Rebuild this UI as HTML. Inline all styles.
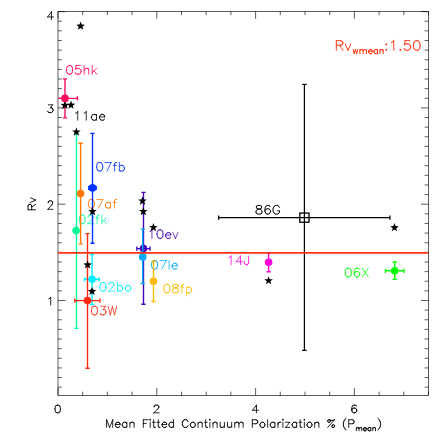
<!DOCTYPE html>
<html><head><meta charset="utf-8"><title>Rv vs Mean Fitted Continuum Polarization</title>
<style>html,body{margin:0;padding:0;background:#fff;font-family:"Liberation Sans",sans-serif;}svg{display:block}</style></head>
<body><svg width="436" height="436" viewBox="0 0 436 436">
<rect width="436" height="436" fill="#fff"/>
<g stroke="#000" stroke-width="0.64" fill="none" stroke-linecap="butt">
<rect x="58.00" y="11.45" width="370.40" height="383.95"/>
<path d="M58.00 387.17h3.80M428.40 387.17h-3.80M58.00 377.54h3.80M428.40 377.54h-3.80M58.00 367.91h3.80M428.40 367.91h-3.80M58.00 358.28h3.80M428.40 358.28h-3.80M58.00 348.65h3.80M428.40 348.65h-3.80M58.00 339.02h3.80M428.40 339.02h-3.80M58.00 329.39h3.80M428.40 329.39h-3.80M58.00 319.76h3.80M428.40 319.76h-3.80M58.00 310.13h3.80M428.40 310.13h-3.80M58.00 300.50h7.40M428.40 300.50h-7.40M58.00 290.87h3.80M428.40 290.87h-3.80M58.00 281.24h3.80M428.40 281.24h-3.80M58.00 271.61h3.80M428.40 271.61h-3.80M58.00 261.98h3.80M428.40 261.98h-3.80M58.00 252.35h3.80M428.40 252.35h-3.80M58.00 242.72h3.80M428.40 242.72h-3.80M58.00 233.09h3.80M428.40 233.09h-3.80M58.00 223.46h3.80M428.40 223.46h-3.80M58.00 213.83h3.80M428.40 213.83h-3.80M58.00 204.20h7.40M428.40 204.20h-7.40M58.00 194.57h3.80M428.40 194.57h-3.80M58.00 184.94h3.80M428.40 184.94h-3.80M58.00 175.31h3.80M428.40 175.31h-3.80M58.00 165.68h3.80M428.40 165.68h-3.80M58.00 156.05h3.80M428.40 156.05h-3.80M58.00 146.42h3.80M428.40 146.42h-3.80M58.00 136.79h3.80M428.40 136.79h-3.80M58.00 127.16h3.80M428.40 127.16h-3.80M58.00 117.53h3.80M428.40 117.53h-3.80M58.00 107.90h7.40M428.40 107.90h-7.40M58.00 98.27h3.80M428.40 98.27h-3.80M58.00 88.64h3.80M428.40 88.64h-3.80M58.00 79.01h3.80M428.40 79.01h-3.80M58.00 69.38h3.80M428.40 69.38h-3.80M58.00 59.75h3.80M428.40 59.75h-3.80M58.00 50.12h3.80M428.40 50.12h-3.80M58.00 40.49h3.80M428.40 40.49h-3.80M58.00 30.86h3.80M428.40 30.86h-3.80M58.00 21.23h3.80M428.40 21.23h-3.80M58.00 11.60h7.40M428.40 11.60h-7.40M58.00 395.40v-7.40M58.00 11.45v7.40M82.70 395.40v-3.70M82.70 11.45v3.70M107.40 395.40v-3.70M107.40 11.45v3.70M132.10 395.40v-3.70M132.10 11.45v3.70M156.80 395.40v-7.40M156.80 11.45v7.40M181.50 395.40v-3.70M181.50 11.45v3.70M206.20 395.40v-3.70M206.20 11.45v3.70M230.90 395.40v-3.70M230.90 11.45v3.70M255.60 395.40v-7.40M255.60 11.45v7.40M280.30 395.40v-3.70M280.30 11.45v3.70M305.00 395.40v-3.70M305.00 11.45v3.70M329.70 395.40v-3.70M329.70 11.45v3.70M354.40 395.40v-7.40M354.40 11.45v7.40M379.10 395.40v-3.70M379.10 11.45v3.70M403.80 395.40v-3.70M403.80 11.45v3.70M428.50 395.40v-3.70M428.50 11.45v3.70"/>
</g>
<path d="M54.99 408.42L55.38 406.60M54.99 409.51L55.38 411.34M60.02 406.60L60.41 408.42M60.02 411.34L60.41 409.51M55.38 406.60L56.15 405.50M55.38 411.34L56.15 412.44M59.25 405.50L60.02 406.60M59.25 412.44L60.02 411.34M56.15 405.50L57.31 405.13M56.15 412.44L57.31 412.80M58.09 405.13L59.25 405.50M58.09 412.80L59.25 412.44M54.99 408.42L54.99 409.51M60.41 408.42L60.41 409.51M57.31 405.13L58.09 405.13M57.31 412.80L58.09 412.80" fill="none" stroke="#000" stroke-width="0.85" stroke-linecap="round" stroke-linejoin="round" opacity="1"/>
<path d="M153.79 412.80L157.66 409.15M153.79 412.80L159.21 412.80M155.73 405.13L157.27 405.13M157.66 409.15L158.44 408.06M154.18 406.60L154.56 405.87M154.95 405.50L155.73 405.13M157.27 405.13L158.05 405.50M158.44 405.87L158.82 406.60M158.44 408.06L158.82 407.32M158.82 406.60L158.82 407.32M154.56 405.87L154.95 405.50M158.05 405.50L158.44 405.87M154.18 406.60L154.18 406.96" fill="none" stroke="#000" stroke-width="0.85" stroke-linecap="round" stroke-linejoin="round" opacity="1"/>
<path d="M256.46 405.13L256.46 412.80M252.59 410.25L256.46 405.13M252.59 410.25L258.40 410.25" fill="none" stroke="#000" stroke-width="0.85" stroke-linecap="round" stroke-linejoin="round" opacity="1"/>
<path d="M351.78 408.42L352.16 406.60M351.78 408.42L351.78 410.25M351.78 410.25L352.16 411.70M352.16 406.60L352.94 405.50M351.78 410.25L352.16 409.15M352.94 405.50L354.10 405.13M352.94 408.42L354.10 408.06M352.94 412.44L354.10 412.80M354.49 408.06L355.65 408.42M354.49 412.80L355.65 412.44M354.87 405.13L356.03 405.50M356.42 409.15L356.81 410.25M356.42 411.70L356.81 410.61M352.16 409.15L352.94 408.42M352.16 411.70L352.94 412.44M355.65 408.42L356.42 409.15M355.65 412.44L356.42 411.70M356.03 405.50L356.42 406.23M354.10 405.13L354.87 405.13M354.10 408.06L354.49 408.06M354.10 412.80L354.49 412.80M356.81 410.25L356.81 410.61" fill="none" stroke="#000" stroke-width="0.85" stroke-linecap="round" stroke-linejoin="round" opacity="1"/>
<path d="M50.72 297.28L50.72 305.05M49.56 298.39L50.72 297.28M48.78 298.76L49.56 298.39" fill="none" stroke="#000" stroke-width="0.85" stroke-linecap="round" stroke-linejoin="round" opacity="1"/>
<path d="M47.85 209.30L51.47 205.25M47.85 209.30L52.91 209.30M49.66 200.80L51.10 200.80M51.47 205.25L52.19 204.04M48.21 202.42L48.57 201.61M48.93 201.20L49.66 200.80M51.10 200.80L51.83 201.20M52.19 201.61L52.55 202.42M52.19 204.04L52.55 203.23M52.55 202.42L52.55 203.23M48.57 201.61L48.93 201.20M51.83 201.20L52.19 201.61M48.21 202.42L48.21 202.82" fill="none" stroke="#000" stroke-width="0.85" stroke-linecap="round" stroke-linejoin="round" opacity="1"/>
<path d="M48.40 104.83L52.65 104.83M50.33 107.79L52.65 104.83M48.40 112.23L49.56 112.60M50.72 112.60L51.88 112.23M52.65 108.53L53.04 109.64M52.65 111.49L53.04 110.38M49.56 112.60L50.72 112.60M50.33 107.79L51.49 107.79M51.88 112.23L52.65 111.49M47.62 111.12L48.01 111.86M51.49 107.79L52.27 108.16M53.04 109.64L53.04 110.38M48.01 111.86L48.40 112.23M52.27 108.16L52.65 108.53" fill="none" stroke="#000" stroke-width="0.85" stroke-linecap="round" stroke-linejoin="round" opacity="1"/>
<path d="M51.49 11.78L51.49 19.55M47.62 16.96L51.49 11.78M47.62 16.96L53.43 16.96" fill="none" stroke="#000" stroke-width="0.85" stroke-linecap="round" stroke-linejoin="round" opacity="1"/>
<path d="M106.60 419.73L109.66 427.40M109.66 427.40L112.72 419.73M106.60 419.73L106.60 427.40M112.72 419.73L112.72 427.40M115.40 424.48L119.99 424.48M115.40 424.48L115.78 423.38M115.40 425.21L115.78 426.30M117.31 422.29L118.46 422.29M117.31 427.40L118.46 427.40M115.78 423.38L116.55 422.65M115.78 426.30L116.55 427.03M119.22 427.03L119.99 426.30M116.55 422.65L117.31 422.29M116.55 427.03L117.31 427.40M118.46 422.29L119.22 422.65M118.46 427.40L119.22 427.03M119.61 423.02L119.99 423.75M115.40 424.48L115.40 425.21M119.99 423.75L119.99 424.48M119.22 422.65L119.61 423.02M126.87 422.29L126.87 427.40M122.28 424.48L122.67 423.38M122.28 425.21L122.67 426.30M124.20 422.29L125.34 422.29M124.20 427.40L125.34 427.40M122.67 423.38L123.43 422.65M122.67 426.30L123.43 427.03M126.11 422.65L126.87 423.38M126.11 427.03L126.87 426.30M123.43 422.65L124.20 422.29M123.43 427.03L124.20 427.40M125.34 422.29L126.11 422.65M125.34 427.40L126.11 427.03M122.28 424.48L122.28 425.21M129.93 422.29L129.93 427.40M134.14 423.75L134.14 427.40M129.93 423.75L131.08 422.65M133.76 422.65L134.14 423.75M131.84 422.29L132.99 422.29M131.08 422.65L131.84 422.29M132.99 422.29L133.76 422.65M143.32 419.73L143.32 427.40M143.32 419.73L148.29 419.73M143.32 423.38L146.38 423.38M150.21 422.29L150.21 427.40M149.82 419.73L150.21 419.37M149.82 419.73L150.21 420.10M150.21 419.37L150.59 419.73M150.21 420.10L150.59 419.73M153.65 419.73L153.65 425.94M152.50 422.29L155.18 422.29M153.65 425.94L154.03 427.03M154.03 427.03L154.80 427.40M154.80 427.40L155.56 427.40M158.24 419.73L158.24 425.94M157.09 422.29L159.77 422.29M158.24 425.94L158.62 427.03M158.62 427.03L159.39 427.40M159.39 427.40L160.15 427.40M162.06 424.48L166.65 424.48M162.06 424.48L162.45 423.38M162.06 425.21L162.45 426.30M163.98 422.29L165.12 422.29M163.98 427.40L165.12 427.40M162.45 423.38L163.21 422.65M162.45 426.30L163.21 427.03M165.89 427.03L166.65 426.30M163.21 422.65L163.98 422.29M163.21 427.03L163.98 427.40M165.12 422.29L165.89 422.65M165.12 427.40L165.89 427.03M166.27 423.02L166.65 423.75M162.06 424.48L162.06 425.21M166.65 423.75L166.65 424.48M165.89 422.65L166.27 423.02M173.54 419.73L173.54 427.40M168.95 424.48L169.33 423.38M168.95 425.21L169.33 426.30M170.86 422.29L172.01 422.29M170.86 427.40L172.01 427.40M169.33 423.38L170.09 422.65M169.33 426.30L170.09 427.03M172.77 422.65L173.54 423.38M172.77 427.03L173.54 426.30M170.09 422.65L170.86 422.29M170.09 427.03L170.86 427.40M172.01 422.29L172.77 422.65M172.01 427.40L172.77 427.03M168.95 424.48L168.95 425.21M182.34 422.65L182.34 424.48M184.63 419.73L186.16 419.73M184.63 427.40L186.16 427.40M182.34 422.65L182.72 421.56M182.34 424.48L182.72 425.57M183.10 420.83L183.87 420.10M183.10 426.30L183.87 427.03M186.93 420.10L187.69 420.83M186.93 427.03L187.69 426.30M182.72 421.56L183.10 420.83M182.72 425.57L183.10 426.30M183.87 420.10L184.63 419.73M183.87 427.03L184.63 427.40M186.16 419.73L186.93 420.10M186.16 427.40L186.93 427.03M187.69 420.83L188.07 421.56M187.69 426.30L188.07 425.57M190.37 424.48L190.75 423.38M190.37 425.21L190.75 426.30M194.96 423.38L195.34 424.48M194.96 426.30L195.34 425.21M192.28 422.29L193.43 422.29M192.28 427.40L193.43 427.40M190.75 423.38L191.52 422.65M190.75 426.30L191.52 427.03M194.19 422.65L194.96 423.38M194.19 427.03L194.96 426.30M191.52 422.65L192.28 422.29M191.52 427.03L192.28 427.40M193.43 422.29L194.19 422.65M193.43 427.40L194.19 427.03M190.37 424.48L190.37 425.21M195.34 424.48L195.34 425.21M198.02 422.29L198.02 427.40M202.23 423.75L202.23 427.40M198.02 423.75L199.17 422.65M201.84 422.65L202.23 423.75M199.93 422.29L201.08 422.29M199.17 422.65L199.93 422.29M201.08 422.29L201.84 422.65M205.67 419.73L205.67 425.94M204.52 422.29L207.20 422.29M205.67 425.94L206.05 427.03M206.05 427.03L206.82 427.40M206.82 427.40L207.58 427.40M209.88 422.29L209.88 427.40M209.49 419.73L209.88 419.37M209.49 419.73L209.88 420.10M209.88 419.37L210.26 419.73M209.88 420.10L210.26 419.73M212.94 422.29L212.94 427.40M217.14 423.75L217.14 427.40M212.94 423.75L214.08 422.65M216.76 422.65L217.14 423.75M214.85 422.29L216.00 422.29M214.08 422.65L214.85 422.29M216.00 422.29L216.76 422.65M224.41 422.29L224.41 427.40M220.20 422.29L220.20 425.94M223.26 427.03L224.41 425.94M220.20 425.94L220.59 427.03M221.35 427.40L222.50 427.40M220.59 427.03L221.35 427.40M222.50 427.40L223.26 427.03M231.68 422.29L231.68 427.40M227.47 422.29L227.47 425.94M230.53 427.03L231.68 425.94M227.47 425.94L227.85 427.03M228.62 427.40L229.77 427.40M227.85 427.03L228.62 427.40M229.77 427.40L230.53 427.03M234.74 422.29L234.74 427.40M238.95 423.75L238.95 427.40M243.15 423.75L243.15 427.40M234.74 423.75L235.89 422.65M238.95 423.75L240.09 422.65M238.56 422.65L238.95 423.75M242.77 422.65L243.15 423.75M236.65 422.29L237.80 422.29M240.86 422.29L242.01 422.29M235.89 422.65L236.65 422.29M237.80 422.29L238.56 422.65M240.09 422.65L240.86 422.29M242.01 422.29L242.77 422.65M252.33 419.73L252.33 427.40M252.33 419.73L255.78 419.73M252.33 423.75L255.78 423.75M255.78 419.73L256.92 420.10M255.78 423.75L256.92 423.38M257.69 421.19L257.69 422.29M257.31 420.46L257.69 421.19M257.31 423.02L257.69 422.29M256.92 420.10L257.31 420.46M256.92 423.38L257.31 423.02M259.98 424.48L260.37 423.38M259.98 425.21L260.37 426.30M264.57 423.38L264.96 424.48M264.57 426.30L264.96 425.21M261.90 422.29L263.04 422.29M261.90 427.40L263.04 427.40M260.37 423.38L261.13 422.65M260.37 426.30L261.13 427.03M263.81 422.65L264.57 423.38M263.81 427.03L264.57 426.30M261.13 422.65L261.90 422.29M261.13 427.03L261.90 427.40M263.04 422.29L263.81 422.65M263.04 427.40L263.81 427.03M259.98 424.48L259.98 425.21M264.96 424.48L264.96 425.21M267.63 419.73L267.63 427.40M274.90 422.29L274.90 427.40M270.31 424.48L270.69 423.38M270.31 425.21L270.69 426.30M272.22 422.29L273.37 422.29M272.22 427.40L273.37 427.40M270.69 423.38L271.46 422.65M270.69 426.30L271.46 427.03M274.14 422.65L274.90 423.38M274.14 427.03L274.90 426.30M271.46 422.65L272.22 422.29M271.46 427.03L272.22 427.40M273.37 422.29L274.14 422.65M273.37 427.40L274.14 427.03M270.31 424.48L270.31 425.21M277.96 422.29L277.96 427.40M277.96 424.48L278.34 423.38M279.87 422.29L281.02 422.29M278.34 423.38L279.11 422.65M279.11 422.65L279.87 422.29M282.93 422.29L282.93 427.40M282.55 419.73L282.93 419.37M282.55 419.73L282.93 420.10M282.93 419.37L283.32 419.73M282.93 420.10L283.32 419.73M285.61 427.40L289.82 422.29M285.61 422.29L289.82 422.29M285.61 427.40L289.82 427.40M296.70 422.29L296.70 427.40M292.11 424.48L292.50 423.38M292.11 425.21L292.50 426.30M294.03 422.29L295.17 422.29M294.03 427.40L295.17 427.40M292.50 423.38L293.26 422.65M292.50 426.30L293.26 427.03M295.94 422.65L296.70 423.38M295.94 427.03L296.70 426.30M293.26 422.65L294.03 422.29M293.26 427.03L294.03 427.40M295.17 422.29L295.94 422.65M295.17 427.40L295.94 427.03M292.11 424.48L292.11 425.21M300.15 419.73L300.15 425.94M299.00 422.29L301.68 422.29M300.15 425.94L300.53 427.03M300.53 427.03L301.29 427.40M301.29 427.40L302.06 427.40M304.35 422.29L304.35 427.40M303.97 419.73L304.35 419.37M303.97 419.73L304.35 420.10M304.35 419.37L304.74 419.73M304.35 420.10L304.74 419.73M307.03 424.48L307.41 423.38M307.03 425.21L307.41 426.30M311.62 423.38L312.00 424.48M311.62 426.30L312.00 425.21M308.94 422.29L310.09 422.29M308.94 427.40L310.09 427.40M307.41 423.38L308.18 422.65M307.41 426.30L308.18 427.03M310.86 422.65L311.62 423.38M310.86 427.03L311.62 426.30M308.18 422.65L308.94 422.29M308.18 427.03L308.94 427.40M310.09 422.29L310.86 422.65M310.09 427.40L310.86 427.03M307.03 424.48L307.03 425.21M312.00 424.48L312.00 425.21M314.68 422.29L314.68 427.40M318.89 423.75L318.89 427.40M314.68 423.75L315.83 422.65M318.51 422.65L318.89 423.75M316.59 422.29L317.74 422.29M315.83 422.65L316.59 422.29M317.74 422.29L318.51 422.65M327.69 427.40L334.57 419.73M330.36 420.10L331.51 420.46M332.66 420.46L333.81 420.10M331.51 420.46L332.66 420.46M327.69 421.56L328.45 422.29M329.60 419.73L330.36 420.46M331.89 426.67L332.66 427.40M333.81 424.84L334.57 425.57M327.69 420.83L328.07 420.10M328.07 420.10L328.83 419.73M329.22 422.29L329.98 421.92M329.60 419.73L330.36 420.10M329.98 421.92L330.36 421.19M331.89 425.94L332.28 425.21M332.28 425.21L333.04 424.84M333.42 427.40L334.19 427.03M333.81 420.10L334.57 419.73M334.19 427.03L334.57 426.30M327.69 420.83L327.69 421.56M328.45 422.29L329.22 422.29M328.83 419.73L329.60 419.73M330.36 420.46L330.36 421.19M331.89 425.94L331.89 426.67M332.66 427.40L333.42 427.40M333.04 424.84L333.81 424.84M334.57 425.57L334.57 426.30M343.37 423.38L343.75 421.56M343.37 424.84L343.75 426.67M343.75 421.56L344.52 420.10M343.75 426.67L344.52 428.13M343.37 423.38L343.37 424.84M344.52 420.10L345.28 419.00M344.52 428.13L345.28 429.22M345.28 419.00L346.05 418.27M345.28 429.22L346.05 429.95M348.72 419.73L348.72 427.40M348.72 419.73L352.17 419.73M348.72 423.75L352.17 423.75M352.17 419.73L353.31 420.10M352.17 423.75L353.31 423.38M354.08 421.19L354.08 422.29M353.70 420.46L354.08 421.19M353.70 423.02L354.08 422.29M353.31 420.10L353.70 420.46M353.31 423.38L353.70 423.02" fill="none" stroke="#000" stroke-width="0.85" stroke-linecap="round" stroke-linejoin="round" opacity="1"/>
<path d="M356.31 427.63L356.31 430.80M359.01 428.54L359.01 430.80M361.71 428.54L361.71 430.80M356.31 428.54L357.05 427.86M359.01 428.54L359.75 427.86M358.77 427.86L359.01 428.54M361.47 427.86L361.71 428.54M357.54 427.63L358.27 427.63M360.24 427.63L360.98 427.63M357.05 427.86L357.54 427.63M358.27 427.63L358.77 427.86M359.75 427.86L360.24 427.63M360.98 427.63L361.47 427.86M363.43 428.99L366.38 428.99M363.43 428.99L363.68 428.31M363.43 429.44L363.68 430.12M364.66 427.63L365.40 427.63M364.66 430.80L365.40 430.80M363.68 428.31L364.17 427.86M363.68 430.12L364.17 430.57M365.89 430.57L366.38 430.12M364.17 427.86L364.66 427.63M364.17 430.57L364.66 430.80M365.40 427.63L365.89 427.86M365.40 430.80L365.89 430.57M366.14 428.08L366.38 428.54M363.43 428.99L363.43 429.44M366.38 428.54L366.38 428.99M365.89 427.86L366.14 428.08M370.81 427.63L370.81 430.80M367.86 428.99L368.10 428.31M367.86 429.44L368.10 430.12M369.09 427.63L369.82 427.63M369.09 430.80L369.82 430.80M368.10 428.31L368.60 427.86M368.10 430.12L368.60 430.57M370.32 427.86L370.81 428.31M370.32 430.57L370.81 430.12M368.60 427.86L369.09 427.63M368.60 430.57L369.09 430.80M369.82 427.63L370.32 427.86M369.82 430.80L370.32 430.57M367.86 428.99L367.86 429.44M372.77 427.63L372.77 430.80M375.48 428.54L375.48 430.80M372.77 428.54L373.51 427.86M375.23 427.86L375.48 428.54M374.00 427.63L374.74 427.63M373.51 427.86L374.00 427.63M374.74 427.63L375.23 427.86" fill="none" stroke="#000" stroke-width="0.85" stroke-linecap="round" stroke-linejoin="round" opacity="1"/>
<path d="M380.14 421.56L380.53 423.38M380.14 426.67L380.53 424.84M379.37 420.10L380.14 421.56M379.37 428.13L380.14 426.67M380.53 423.38L380.53 424.84M378.59 419.00L379.37 420.10M378.59 429.22L379.37 428.13M377.82 418.27L378.59 419.00M377.82 429.95L378.59 429.22" fill="none" stroke="#000" stroke-width="0.85" stroke-linecap="round" stroke-linejoin="round" opacity="1"/>
<g transform="translate(35.7 211.3) rotate(-90)"><path d="M1.55 -7.67L1.55 0.00M4.26 -4.01L6.97 0.00M1.55 -7.67L5.03 -7.67M1.55 -4.01L5.03 -4.01M5.03 -7.67L6.19 -7.30M5.03 -4.01L6.19 -4.38M6.58 -6.93L6.97 -6.21M6.58 -4.75L6.97 -5.47M6.97 -6.21L6.97 -5.47M6.19 -7.30L6.58 -6.93M6.19 -4.38L6.58 -4.75M8.90 -5.11L11.22 0.00M11.22 0.00L13.55 -5.11" fill="none" stroke="#000" stroke-width="0.9" stroke-linecap="round"/></g>
<path d="M76.50 132.00V328.30M74.40 132.00h4.20M74.40 328.30h4.20" stroke="#00ff99" stroke-width="1.30" fill="none"/>
<circle cx="76.1" cy="230.6" r="3.8" fill="#00ff99"/>
<path d="M79.20 218.77L79.63 216.71M79.20 220.00L79.63 222.06M84.75 216.71L85.18 218.77M84.75 222.06L85.18 220.00M79.63 216.71L80.48 215.48M79.63 222.06L80.48 223.29M83.90 215.48L84.75 216.71M83.90 223.29L84.75 222.06M80.48 215.48L81.76 215.07M80.48 223.29L81.76 223.70M82.62 215.07L83.90 215.48M82.62 223.70L83.90 223.29M79.20 218.77L79.20 220.00M85.18 218.77L85.18 220.00M81.76 215.07L82.62 215.07M81.76 223.70L82.62 223.70M87.74 223.70L92.01 219.59M87.74 223.70L93.72 223.70M89.88 215.07L91.58 215.07M92.01 219.59L92.86 218.36M88.17 216.71L88.59 215.89M89.02 215.48L89.88 215.07M91.58 215.07L92.44 215.48M92.86 215.89L93.29 216.71M92.86 218.36L93.29 217.53M93.29 216.71L93.29 217.53M88.59 215.89L89.02 215.48M92.44 215.48L92.86 215.89M88.17 216.71L88.17 217.12M97.13 216.71L97.13 223.70M95.85 217.95L98.84 217.95M97.13 216.71L97.56 215.48M97.56 215.48L98.41 215.07M98.41 215.07L99.27 215.07M101.83 215.07L101.83 223.70M101.83 222.06L106.10 217.95M103.54 220.41L106.53 223.70" fill="none" stroke="#00ff99" stroke-width="0.80" stroke-linecap="round" stroke-linejoin="round" opacity="1"/>
<path d="M80.60 143.30V243.90M78.50 143.30h4.20M78.50 243.90h4.20" stroke="#ff7700" stroke-width="1.38" fill="none"/>
<circle cx="80.60" cy="193.60" r="3.80" fill="#ff7700"/>
<path d="M88.40 203.17L88.83 201.11M88.40 204.40L88.83 206.46M93.95 201.11L94.38 203.17M93.95 206.46L94.38 204.40M88.83 201.11L89.68 199.88M88.83 206.46L89.68 207.69M93.10 199.88L93.95 201.11M93.10 207.69L93.95 206.46M89.68 199.88L90.96 199.47M89.68 207.69L90.96 208.10M91.82 199.47L93.10 199.88M91.82 208.10L93.10 207.69M88.40 203.17L88.40 204.40M94.38 203.17L94.38 204.40M90.96 199.47L91.82 199.47M90.96 208.10L91.82 208.10M98.65 208.10L102.92 199.47M96.94 199.47L102.92 199.47M110.60 202.35L110.60 208.10M105.48 204.81L105.91 203.58M105.48 205.63L105.91 206.87M107.61 202.35L108.90 202.35M107.61 208.10L108.90 208.10M105.91 203.58L106.76 202.76M105.91 206.87L106.76 207.69M109.75 202.76L110.60 203.58M109.75 207.69L110.60 206.87M106.76 202.76L107.61 202.35M106.76 207.69L107.61 208.10M108.90 202.35L109.75 202.76M108.90 208.10L109.75 207.69M105.48 204.81L105.48 205.63M114.45 201.11L114.45 208.10M113.17 202.35L116.15 202.35M114.45 201.11L114.87 199.88M114.87 199.88L115.73 199.47M115.73 199.47L116.58 199.47" fill="none" stroke="#ff7700" stroke-width="0.80" stroke-linecap="round" stroke-linejoin="round" opacity="1"/>
<path d="M92.50 133.40V243.30M90.40 133.40h4.20M90.40 243.30h4.20M88.80 187.90H96.20M88.80 185.80v4.20M96.20 185.80v4.20" stroke="#0033ff" stroke-width="1.38" fill="none"/>
<circle cx="92.50" cy="187.90" r="3.80" fill="#0033ff"/>
<path d="M96.70 166.17L97.13 164.11M96.70 167.40L97.13 169.46M102.25 164.11L102.68 166.17M102.25 169.46L102.68 167.40M97.13 164.11L97.98 162.88M97.13 169.46L97.98 170.69M101.40 162.88L102.25 164.11M101.40 170.69L102.25 169.46M97.98 162.88L99.26 162.47M97.98 170.69L99.26 171.10M100.12 162.47L101.40 162.88M100.12 171.10L101.40 170.69M96.70 166.17L96.70 167.40M102.68 166.17L102.68 167.40M99.26 162.47L100.12 162.47M99.26 171.10L100.12 171.10M106.95 171.10L111.22 162.47M105.24 162.47L111.22 162.47M114.63 164.11L114.63 171.10M113.35 165.35L116.34 165.35M114.63 164.11L115.06 162.88M115.06 162.88L115.91 162.47M115.91 162.47L116.77 162.47M119.33 162.47L119.33 171.10M124.03 166.58L124.45 167.81M124.03 169.87L124.45 168.63M121.04 165.35L122.32 165.35M121.04 171.10L122.32 171.10M119.33 166.58L120.18 165.76M119.33 169.87L120.18 170.69M123.17 165.76L124.03 166.58M123.17 170.69L124.03 169.87M120.18 165.76L121.04 165.35M120.18 170.69L121.04 171.10M122.32 165.35L123.17 165.76M122.32 171.10L123.17 170.69M124.45 167.81L124.45 168.63" fill="none" stroke="#0033ff" stroke-width="0.80" stroke-linecap="round" stroke-linejoin="round" opacity="1"/>
<path d="M65.00 78.90V117.90M62.90 78.90h4.20M62.90 117.90h4.20M58.00 98.40H77.50M77.50 96.30v4.20" stroke="#ff0a5a" stroke-width="1.38" fill="none"/>
<circle cx="65.00" cy="98.40" r="3.80" fill="#ff0a5a"/>
<path d="M66.60 69.27L67.03 67.21M66.60 70.50L67.03 72.56M72.15 67.21L72.58 69.27M72.15 72.56L72.58 70.50M67.03 67.21L67.88 65.98M67.03 72.56L67.88 73.79M71.30 65.98L72.15 67.21M71.30 73.79L72.15 72.56M67.88 65.98L69.16 65.57M67.88 73.79L69.16 74.20M70.02 65.57L71.30 65.98M70.02 74.20L71.30 73.79M66.60 69.27L66.60 70.50M72.58 69.27L72.58 70.50M69.16 65.57L70.02 65.57M69.16 74.20L70.02 74.20M75.99 65.57L80.26 65.57M75.57 69.27L75.99 65.57M75.99 68.86L77.27 68.45M75.99 73.79L77.27 74.20M78.56 68.45L79.84 68.86M78.56 74.20L79.84 73.79M80.69 69.68L81.12 70.91M80.69 72.97L81.12 71.73M77.27 68.45L78.56 68.45M77.27 74.20L78.56 74.20M79.84 68.86L80.69 69.68M79.84 73.79L80.69 72.97M75.14 72.56L75.57 73.38M81.12 70.91L81.12 71.73M75.57 69.27L75.99 68.86M75.57 73.38L75.99 73.79M84.11 65.57L84.11 74.20M88.80 70.09L88.80 74.20M84.11 70.09L85.39 68.86M88.38 68.86L88.80 70.09M86.24 68.45L87.52 68.45M85.39 68.86L86.24 68.45M87.52 68.45L88.38 68.86M92.22 65.57L92.22 74.20M92.22 72.56L96.49 68.45M93.93 70.91L96.92 74.20" fill="none" stroke="#ff0a5a" stroke-width="0.85" stroke-linecap="round" stroke-linejoin="round" opacity="1"/>
<path d="M77.73 111.57L77.73 120.20M76.45 112.80L77.73 111.57M75.60 113.21L76.45 112.80M86.28 111.57L86.28 120.20M84.99 112.80L86.28 111.57M84.14 113.21L84.99 112.80M96.52 114.45L96.52 120.20M91.40 116.91L91.83 115.68M91.40 117.73L91.83 118.97M93.53 114.45L94.81 114.45M93.53 120.20L94.81 120.20M91.83 115.68L92.68 114.86M91.83 118.97L92.68 119.79M95.67 114.86L96.52 115.68M95.67 119.79L96.52 118.97M92.68 114.86L93.53 114.45M92.68 119.79L93.53 120.20M94.81 114.45L95.67 114.86M94.81 120.20L95.67 119.79M91.40 116.91L91.40 117.73M99.51 116.91L104.64 116.91M99.51 116.91L99.94 115.68M99.51 117.73L99.94 118.97M101.65 114.45L102.93 114.45M101.65 120.20L102.93 120.20M99.94 115.68L100.79 114.86M99.94 118.97L100.79 119.79M103.78 119.79L104.64 118.97M100.79 114.86L101.65 114.45M100.79 119.79L101.65 120.20M102.93 114.45L103.78 114.86M102.93 120.20L103.78 119.79M104.21 115.27L104.64 116.09M99.51 116.91L99.51 117.73M104.64 116.09L104.64 116.91M103.78 114.86L104.21 115.27" fill="none" stroke="#000" stroke-width="0.80" stroke-linecap="round" stroke-linejoin="round" opacity="1"/>
<path d="M92.10 254.50V304.60M90.00 254.50h4.20M90.00 304.60h4.20M84.50 279.30H99.20M84.50 277.20v4.20M99.20 277.20v4.20" stroke="#00eeff" stroke-width="1.38" fill="none"/>
<circle cx="92.10" cy="279.30" r="3.80" fill="#00eeff"/>
<path d="M100.00 286.17L100.43 284.11M100.00 287.40L100.43 289.46M105.55 284.11L105.98 286.17M105.55 289.46L105.98 287.40M100.43 284.11L101.28 282.88M100.43 289.46L101.28 290.69M104.70 282.88L105.55 284.11M104.70 290.69L105.55 289.46M101.28 282.88L102.56 282.47M101.28 290.69L102.56 291.10M103.42 282.47L104.70 282.88M103.42 291.10L104.70 290.69M100.00 286.17L100.00 287.40M105.98 286.17L105.98 287.40M102.56 282.47L103.42 282.47M102.56 291.10L103.42 291.10M108.54 291.10L112.81 286.99M108.54 291.10L114.52 291.10M110.67 282.47L112.38 282.47M112.81 286.99L113.66 285.76M108.97 284.11L109.39 283.29M109.82 282.88L110.67 282.47M112.38 282.47L113.24 282.88M113.66 283.29L114.09 284.11M113.66 285.76L114.09 284.93M114.09 284.11L114.09 284.93M109.39 283.29L109.82 282.88M113.24 282.88L113.66 283.29M108.97 284.11L108.97 284.52M117.51 282.47L117.51 291.10M122.20 286.58L122.63 287.81M122.20 289.87L122.63 288.63M119.21 285.35L120.50 285.35M119.21 291.10L120.50 291.10M117.51 286.58L118.36 285.76M117.51 289.87L118.36 290.69M121.35 285.76L122.20 286.58M121.35 290.69L122.20 289.87M118.36 285.76L119.21 285.35M118.36 290.69L119.21 291.10M120.50 285.35L121.35 285.76M120.50 291.10L121.35 290.69M122.63 287.81L122.63 288.63M125.19 287.81L125.62 286.58M125.19 288.63L125.62 289.87M130.32 286.58L130.74 287.81M130.32 289.87L130.74 288.63M127.33 285.35L128.61 285.35M127.33 291.10L128.61 291.10M125.62 286.58L126.47 285.76M125.62 289.87L126.47 290.69M129.46 285.76L130.32 286.58M129.46 290.69L130.32 289.87M126.47 285.76L127.33 285.35M126.47 290.69L127.33 291.10M128.61 285.35L129.46 285.76M128.61 291.10L129.46 290.69M125.19 287.81L125.19 288.63M130.74 287.81L130.74 288.63" fill="none" stroke="#00eeff" stroke-width="0.80" stroke-linecap="round" stroke-linejoin="round" opacity="1"/>
<path d="M87.50 233.60V368.20M85.40 233.60h4.20M85.40 368.20h4.20M74.80 300.60H99.90M74.80 298.50v4.20M99.90 298.50v4.20" stroke="#ff2a10" stroke-width="1.38" fill="none"/>
<circle cx="87.50" cy="300.60" r="3.80" fill="#ff2a10"/>
<path d="M91.50 309.97L91.93 307.91M91.50 311.20L91.93 313.26M97.05 307.91L97.48 309.97M97.05 313.26L97.48 311.20M91.93 307.91L92.78 306.68M91.93 313.26L92.78 314.49M96.20 306.68L97.05 307.91M96.20 314.49L97.05 313.26M92.78 306.68L94.06 306.27M92.78 314.49L94.06 314.90M94.92 306.27L96.20 306.68M94.92 314.90L96.20 314.49M91.50 309.97L91.50 311.20M97.48 309.97L97.48 311.20M94.06 306.27L94.92 306.27M94.06 314.90L94.92 314.90M100.89 306.27L105.59 306.27M103.03 309.56L105.59 306.27M100.89 314.49L102.17 314.90M103.46 314.90L104.74 314.49M105.59 310.38L106.02 311.61M105.59 313.67L106.02 312.43M102.17 314.90L103.46 314.90M103.03 309.56L104.31 309.56M104.74 314.49L105.59 313.67M100.04 313.26L100.47 314.08M104.31 309.56L105.16 309.97M106.02 311.61L106.02 312.43M100.47 314.08L100.89 314.49M105.16 309.97L105.59 310.38M108.15 306.27L110.29 314.90M110.29 314.90L112.42 306.27M112.42 306.27L114.56 314.90M114.56 314.90L116.69 306.27" fill="none" stroke="#ff2a10" stroke-width="0.80" stroke-linecap="round" stroke-linejoin="round" opacity="1"/>
<path d="M143.50 192.40V304.20M141.40 192.40h4.20M141.40 304.20h4.20M136.90 248.60H150.00M136.90 246.50v4.20M150.00 246.50v4.20" stroke="#4400bb" stroke-width="1.38" fill="none"/>
<circle cx="143.50" cy="248.60" r="3.80" fill="#4400bb"/>
<path d="M151.94 229.77L151.94 238.40M150.65 231.00L151.94 229.77M149.80 231.41L150.65 231.00M157.06 233.47L157.49 231.41M157.06 234.70L157.49 236.76M162.61 231.41L163.04 233.47M162.61 236.76L163.04 234.70M157.49 231.41L158.34 230.18M157.49 236.76L158.34 237.99M161.76 230.18L162.61 231.41M161.76 237.99L162.61 236.76M158.34 230.18L159.62 229.77M158.34 237.99L159.62 238.40M160.47 229.77L161.76 230.18M160.47 238.40L161.76 237.99M157.06 233.47L157.06 234.70M163.04 233.47L163.04 234.70M159.62 229.77L160.47 229.77M159.62 238.40L160.47 238.40M165.60 235.11L170.72 235.11M165.60 235.11L166.03 233.88M165.60 235.93L166.03 237.17M167.73 232.65L169.01 232.65M167.73 238.40L169.01 238.40M166.03 233.88L166.88 233.06M166.03 237.17L166.88 237.99M169.87 237.99L170.72 237.17M166.88 233.06L167.73 232.65M166.88 237.99L167.73 238.40M169.01 232.65L169.87 233.06M169.01 238.40L169.87 237.99M170.30 233.47L170.72 234.29M165.60 235.11L165.60 235.93M170.72 234.29L170.72 235.11M169.87 233.06L170.30 233.47M172.86 232.65L175.42 238.40M175.42 238.40L177.98 232.65" fill="none" stroke="#4400bb" stroke-width="0.80" stroke-linecap="round" stroke-linejoin="round" opacity="1"/>
<path d="M142.70 229.10V283.50M140.60 229.10h4.20M140.60 283.50h4.20" stroke="#00aaff" stroke-width="1.38" fill="none"/>
<circle cx="142.70" cy="256.90" r="3.80" fill="#00aaff"/>
<path d="M151.60 264.17L152.03 262.11M151.60 265.40L152.03 267.46M157.15 262.11L157.58 264.17M157.15 267.46L157.58 265.40M152.03 262.11L152.88 260.88M152.03 267.46L152.88 268.69M156.30 260.88L157.15 262.11M156.30 268.69L157.15 267.46M152.88 260.88L154.16 260.47M152.88 268.69L154.16 269.10M155.02 260.47L156.30 260.88M155.02 269.10L156.30 268.69M151.60 264.17L151.60 265.40M157.58 264.17L157.58 265.40M154.16 260.47L155.02 260.47M154.16 269.10L155.02 269.10M161.85 269.10L166.12 260.47M160.14 260.47L166.12 260.47M169.11 260.47L169.11 269.10M172.10 265.81L177.22 265.81M172.10 265.81L172.52 264.58M172.10 266.63L172.52 267.87M174.23 263.35L175.51 263.35M174.23 269.10L175.51 269.10M172.52 264.58L173.38 263.76M172.52 267.87L173.38 268.69M176.37 268.69L177.22 267.87M173.38 263.76L174.23 263.35M173.38 268.69L174.23 269.10M175.51 263.35L176.37 263.76M175.51 269.10L176.37 268.69M176.79 264.17L177.22 264.99M172.10 265.81L172.10 266.63M177.22 264.99L177.22 265.81M176.37 263.76L176.79 264.17" fill="none" stroke="#00aaff" stroke-width="0.80" stroke-linecap="round" stroke-linejoin="round" opacity="1"/>
<path d="M153.50 261.20V301.50M151.40 261.20h4.20M151.40 301.50h4.20" stroke="#ffbb00" stroke-width="1.38" fill="none"/>
<circle cx="153.50" cy="281.30" r="3.80" fill="#ffbb00"/>
<path d="M163.90 287.97L164.33 285.91M163.90 289.20L164.33 291.26M169.45 285.91L169.88 287.97M169.45 291.26L169.88 289.20M164.33 285.91L165.18 284.68M164.33 291.26L165.18 292.49M168.60 284.68L169.45 285.91M168.60 292.49L169.45 291.26M165.18 284.68L166.46 284.27M165.18 292.49L166.46 292.90M167.32 284.27L168.60 284.68M167.32 292.90L168.60 292.49M163.90 287.97L163.90 289.20M169.88 287.97L169.88 289.20M166.46 284.27L167.32 284.27M166.46 292.90L167.32 292.90M174.15 287.56L175.86 287.97M175.00 287.97L176.71 287.56M174.57 284.27L176.28 284.27M174.57 292.90L176.28 292.90M173.29 284.68L174.57 284.27M173.29 292.49L174.57 292.90M173.72 288.38L175.00 287.97M175.86 287.97L177.14 288.38M176.28 284.27L177.56 284.68M176.28 292.90L177.56 292.49M172.44 290.02L172.44 291.26M178.42 290.02L178.42 291.26M172.87 289.20L173.72 288.38M177.14 288.38L177.99 289.20M172.44 290.02L172.87 289.20M172.44 291.26L172.87 292.08M172.87 285.50L173.29 284.68M172.87 286.32L173.29 287.15M173.29 287.15L174.15 287.56M176.71 287.56L177.56 287.15M177.56 284.68L177.99 285.50M177.56 287.15L177.99 286.32M177.99 289.20L178.42 290.02M177.99 292.08L178.42 291.26M172.87 285.50L172.87 286.32M177.99 285.50L177.99 286.32M172.87 292.08L173.29 292.49M177.56 292.49L177.99 292.08M181.83 285.91L181.83 292.90M180.55 287.15L183.54 287.15M181.83 285.91L182.26 284.68M182.26 284.68L183.11 284.27M183.11 284.27L183.97 284.27M186.53 287.15L186.53 295.78M191.23 288.38L191.65 289.61M191.23 291.67L191.65 290.43M188.24 287.15L189.52 287.15M188.24 292.90L189.52 292.90M186.53 288.38L187.38 287.56M186.53 291.67L187.38 292.49M190.37 287.56L191.23 288.38M190.37 292.49L191.23 291.67M187.38 287.56L188.24 287.15M187.38 292.49L188.24 292.90M189.52 287.15L190.37 287.56M189.52 292.90L190.37 292.49M191.65 289.61L191.65 290.43" fill="none" stroke="#ffbb00" stroke-width="0.80" stroke-linecap="round" stroke-linejoin="round" opacity="1"/>
<path d="M268.60 253.00V271.70M266.50 253.00h4.20M266.50 271.70h4.20" stroke="#ff00dd" stroke-width="1.38" fill="none"/>
<circle cx="268.60" cy="262.20" r="3.80" fill="#ff00dd"/>
<path d="M231.13 255.97L231.13 264.60M229.85 257.20L231.13 255.97M229.00 257.61L229.85 257.20M240.53 255.97L240.53 264.60M236.26 261.72L240.53 255.97M236.26 261.72L242.66 261.72M248.64 255.97L248.64 262.54M244.37 262.54L244.80 263.78M248.21 263.78L248.64 262.54M245.23 264.19L246.08 264.60M246.93 264.60L247.79 264.19M244.37 261.72L244.37 262.54M246.08 264.60L246.93 264.60M244.80 263.78L245.23 264.19M247.79 264.19L248.21 263.78" fill="none" stroke="#ff00dd" stroke-width="0.80" stroke-linecap="round" stroke-linejoin="round" opacity="1"/>
<path d="M394.70 262.00V279.40M392.60 262.00h4.20M392.60 279.40h4.20M385.50 270.80H403.90M385.50 268.70v4.20M403.90 268.70v4.20" stroke="#00ff00" stroke-width="1.38" fill="none"/>
<circle cx="394.70" cy="270.80" r="3.80" fill="#00ff00"/>
<path d="M345.30 271.97L345.73 269.91M345.30 273.20L345.73 275.26M350.85 269.91L351.28 271.97M350.85 275.26L351.28 273.20M345.73 269.91L346.58 268.68M345.73 275.26L346.58 276.49M350.00 268.68L350.85 269.91M350.00 276.49L350.85 275.26M346.58 268.68L347.86 268.27M346.58 276.49L347.86 276.90M348.72 268.27L350.00 268.68M348.72 276.90L350.00 276.49M345.30 271.97L345.30 273.20M351.28 271.97L351.28 273.20M347.86 268.27L348.72 268.27M347.86 276.90L348.72 276.90M354.27 271.97L354.69 269.91M354.27 271.97L354.27 274.02M354.27 274.02L354.69 275.67M354.69 269.91L355.55 268.68M354.27 274.02L354.69 272.79M355.55 268.68L356.83 268.27M355.55 271.97L356.83 271.56M355.55 276.49L356.83 276.90M357.26 271.56L358.54 271.97M357.26 276.90L358.54 276.49M357.68 268.27L358.96 268.68M359.39 272.79L359.82 274.02M359.39 275.67L359.82 274.43M354.69 272.79L355.55 271.97M354.69 275.67L355.55 276.49M358.54 271.97L359.39 272.79M358.54 276.49L359.39 275.67M358.96 268.68L359.39 269.50M356.83 268.27L357.68 268.27M356.83 271.56L357.26 271.56M356.83 276.90L357.26 276.90M359.82 274.02L359.82 274.43M362.38 268.27L368.36 276.90M362.38 276.90L368.36 268.27" fill="none" stroke="#00ff00" stroke-width="0.80" stroke-linecap="round" stroke-linejoin="round" opacity="1"/>
<path d="M304.4 84.4V350.3M302.2 84.4h4.4M302.2 350.3h4.4M218.6 217.65H389.9M218.6 215.5v4.3M389.9 215.5v4.3" stroke="#000" stroke-width="1.25" fill="none"/>
<rect x="299.8" y="213.05" width="9.2" height="9.2" fill="none" stroke="#000" stroke-width="1.3"/>
<path d="M257.71 208.76L259.42 209.17M258.56 209.17L260.27 208.76M258.13 205.47L259.84 205.47M258.13 214.10L259.84 214.10M256.85 205.88L258.13 205.47M256.85 213.69L258.13 214.10M257.28 209.58L258.56 209.17M259.42 209.17L260.70 209.58M259.84 205.47L261.12 205.88M259.84 214.10L261.12 213.69M256.00 211.22L256.00 212.46M261.98 211.22L261.98 212.46M256.43 210.40L257.28 209.58M260.70 209.58L261.55 210.40M256.00 211.22L256.43 210.40M256.00 212.46L256.43 213.28M256.43 206.70L256.85 205.88M256.43 207.52L256.85 208.35M256.85 208.35L257.71 208.76M260.27 208.76L261.12 208.35M261.12 205.88L261.55 206.70M261.12 208.35L261.55 207.52M261.55 210.40L261.98 211.22M261.55 213.28L261.98 212.46M256.43 206.70L256.43 207.52M261.55 206.70L261.55 207.52M256.43 213.28L256.85 213.69M261.12 213.69L261.55 213.28M264.97 209.17L265.39 207.11M264.97 209.17L264.97 211.22M264.97 211.22L265.39 212.87M265.39 207.11L266.25 205.88M264.97 211.22L265.39 209.99M266.25 205.88L267.53 205.47M266.25 209.17L267.53 208.76M266.25 213.69L267.53 214.10M267.96 208.76L269.24 209.17M267.96 214.10L269.24 213.69M268.38 205.47L269.66 205.88M270.09 209.99L270.52 211.22M270.09 212.87L270.52 211.63M265.39 209.99L266.25 209.17M265.39 212.87L266.25 213.69M269.24 209.17L270.09 209.99M269.24 213.69L270.09 212.87M269.66 205.88L270.09 206.70M267.53 205.47L268.38 205.47M267.53 208.76L267.96 208.76M267.53 214.10L267.96 214.10M270.52 211.22L270.52 211.63M273.08 208.76L273.08 210.81M277.35 210.81L279.49 210.81M275.64 205.47L277.35 205.47M275.64 214.10L277.35 214.10M273.08 208.76L273.51 207.52M273.08 210.81L273.51 212.04M279.49 210.81L279.49 212.04M273.93 206.70L274.79 205.88M273.93 212.87L274.79 213.69M278.20 205.88L279.06 206.70M278.20 213.69L279.06 212.87M273.51 207.52L273.93 206.70M273.51 212.04L273.93 212.87M274.79 205.88L275.64 205.47M274.79 213.69L275.64 214.10M277.35 205.47L278.20 205.88M277.35 214.10L278.20 213.69M279.06 206.70L279.49 207.52M279.06 212.87L279.49 212.04" fill="none" stroke="#000" stroke-width="0.80" stroke-linecap="round" stroke-linejoin="round" opacity="1"/>
<path d="M58.00 252.90H428.40" stroke="#ff3311" stroke-width="1.9" fill="none"/>
<polygon points="80.60,21.60 81.71,24.57 84.88,24.71 82.40,26.68 83.25,29.74 80.60,27.99 77.95,29.74 78.80,26.68 76.32,24.71 79.49,24.57" fill="#000"/>
<polygon points="64.90,100.90 66.01,103.87 69.18,104.01 66.70,105.98 67.55,109.04 64.90,107.29 62.25,109.04 63.10,105.98 60.62,104.01 63.79,103.87" fill="#000"/>
<polygon points="71.00,100.60 72.11,103.57 75.28,103.71 72.80,105.68 73.65,108.74 71.00,106.99 68.35,108.74 69.20,105.68 66.72,103.71 69.89,103.57" fill="#000"/>
<polygon points="76.40,127.50 77.51,130.47 80.68,130.61 78.20,132.58 79.05,135.64 76.40,133.89 73.75,135.64 74.60,132.58 72.12,130.61 75.29,130.47" fill="#000"/>
<polygon points="92.50,207.00 93.61,209.97 96.78,210.11 94.30,212.08 95.15,215.14 92.50,213.39 89.85,215.14 90.70,212.08 88.22,210.11 91.39,209.97" fill="#000"/>
<polygon points="87.60,260.30 88.71,263.27 91.88,263.41 89.40,265.38 90.25,268.44 87.60,266.69 84.95,268.44 85.80,265.38 83.32,263.41 86.49,263.27" fill="#000"/>
<polygon points="92.10,286.90 93.21,289.87 96.38,290.01 93.90,291.98 94.75,295.04 92.10,293.29 89.45,295.04 90.30,291.98 87.82,290.01 90.99,289.87" fill="#000"/>
<polygon points="142.50,196.50 143.61,199.47 146.78,199.61 144.30,201.58 145.15,204.64 142.50,202.89 139.85,204.64 140.70,201.58 138.22,199.61 141.39,199.47" fill="#000"/>
<polygon points="143.30,207.00 144.41,209.97 147.58,210.11 145.10,212.08 145.95,215.14 143.30,213.39 140.65,215.14 141.50,212.08 139.02,210.11 142.19,209.97" fill="#000"/>
<polygon points="153.40,223.00 154.51,225.97 157.68,226.11 155.20,228.08 156.05,231.14 153.40,229.39 150.75,231.14 151.60,228.08 149.12,226.11 152.29,225.97" fill="#000"/>
<polygon points="268.60,276.20 269.71,279.17 272.88,279.31 270.40,281.28 271.25,284.34 268.60,282.59 265.95,284.34 266.80,281.28 264.32,279.31 267.49,279.17" fill="#000"/>
<polygon points="394.50,223.10 395.61,226.07 398.78,226.21 396.30,228.18 397.15,231.24 394.50,229.49 391.85,231.24 392.70,228.18 390.22,226.21 393.39,226.07" fill="#000"/>
<path d="M336.30 40.64L336.30 50.30M339.59 45.24L342.88 50.30M336.30 40.64L340.53 40.64M336.30 45.24L340.53 45.24M340.53 40.64L341.94 41.10M340.53 45.24L341.94 44.78M342.41 41.56L342.88 42.48M342.41 44.32L342.88 43.40M342.88 42.48L342.88 43.40M341.94 41.10L342.41 41.56M341.94 44.78L342.41 44.32M345.23 43.86L348.05 50.30M348.05 50.30L350.87 43.86" fill="none" stroke="#ff3311" stroke-width="0.95" stroke-linecap="round" stroke-linejoin="round" opacity="1"/>
<path d="M353.01 49.61L354.20 53.60M354.20 53.60L355.40 49.61M355.40 49.61L356.60 53.60M356.60 53.60L357.79 49.61M359.88 49.61L359.88 53.60M363.17 50.75L363.17 53.60M366.46 50.75L366.46 53.60M359.88 50.75L360.78 49.89M363.17 50.75L364.07 49.89M362.87 49.89L363.17 50.75M366.16 49.89L366.46 50.75M361.38 49.61L362.28 49.61M364.67 49.61L365.56 49.61M360.78 49.89L361.38 49.61M362.28 49.61L362.87 49.89M364.07 49.89L364.67 49.61M365.56 49.61L366.16 49.89M368.56 51.32L372.14 51.32M368.56 51.32L368.85 50.46M368.56 51.89L368.85 52.74M370.05 49.61L370.95 49.61M370.05 53.60L370.95 53.60M368.85 50.46L369.45 49.89M368.85 52.74L369.45 53.31M371.55 53.31L372.14 52.74M369.45 49.89L370.05 49.61M369.45 53.31L370.05 53.60M370.95 49.61L371.55 49.89M370.95 53.60L371.55 53.31M371.84 50.18L372.14 50.75M368.56 51.32L368.56 51.89M372.14 50.75L372.14 51.32M371.55 49.89L371.84 50.18M377.53 49.61L377.53 53.60M373.94 51.32L374.24 50.46M373.94 51.89L374.24 52.74M375.43 49.61L376.33 49.61M375.43 53.60L376.33 53.60M374.24 50.46L374.83 49.89M374.24 52.74L374.83 53.31M376.93 49.89L377.53 50.46M376.93 53.31L377.53 52.74M374.83 49.89L375.43 49.61M374.83 53.31L375.43 53.60M376.33 49.61L376.93 49.89M376.33 53.60L376.93 53.31M373.94 51.32L373.94 51.89M379.92 49.61L379.92 53.60M383.21 50.75L383.21 53.60M379.92 50.75L380.81 49.89M382.91 49.89L383.21 50.75M381.41 49.61L382.31 49.61M380.81 49.89L381.41 49.61M382.31 49.61L382.91 49.89" fill="none" stroke="#ff3311" stroke-width="1.00" stroke-linecap="round" stroke-linejoin="round" opacity="1"/>
<path d="M385.78 44.32L386.25 43.86M385.78 44.32L386.25 44.78M385.78 49.84L386.25 49.38M385.78 49.84L386.25 50.30M386.25 43.86L386.72 44.32M386.25 44.78L386.72 44.32M386.25 49.38L386.72 49.84M386.25 50.30L386.72 49.84M393.77 40.64L393.77 50.30M392.36 42.02L393.77 40.64M391.42 42.48L392.36 42.02M399.88 49.84L400.35 49.38M399.88 49.84L400.35 50.30M400.35 49.38L400.82 49.84M400.35 50.30L400.82 49.84M405.05 40.64L409.75 40.64M404.58 44.78L405.05 40.64M405.05 44.32L406.46 43.86M405.05 49.84L406.46 50.30M407.87 43.86L409.28 44.32M407.87 50.30L409.28 49.84M410.22 45.24L410.69 46.62M410.22 48.92L410.69 47.54M406.46 43.86L407.87 43.86M406.46 50.30L407.87 50.30M409.28 44.32L410.22 45.24M409.28 49.84L410.22 48.92M404.11 48.46L404.58 49.38M410.69 46.62L410.69 47.54M404.58 44.78L405.05 44.32M404.58 49.38L405.05 49.84M413.51 44.78L413.98 42.48M413.51 46.16L413.98 48.46M419.62 42.48L420.09 44.78M419.62 48.46L420.09 46.16M413.98 42.48L414.92 41.10M413.98 48.46L414.92 49.84M418.68 41.10L419.62 42.48M418.68 49.84L419.62 48.46M414.92 41.10L416.33 40.64M414.92 49.84L416.33 50.30M417.27 40.64L418.68 41.10M417.27 50.30L418.68 49.84M413.51 44.78L413.51 46.16M420.09 44.78L420.09 46.16M416.33 40.64L417.27 40.64M416.33 50.30L417.27 50.30" fill="none" stroke="#ff3311" stroke-width="0.95" stroke-linecap="round" stroke-linejoin="round" opacity="1"/>
</svg></body></html>
